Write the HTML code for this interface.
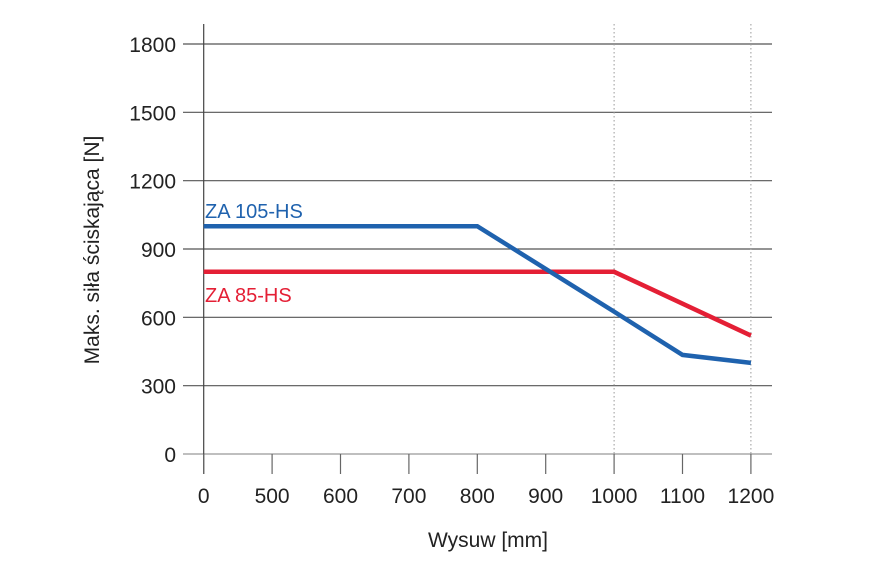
<!DOCTYPE html>
<html><head><meta charset="utf-8"><style>
html,body{margin:0;padding:0;background:#fff;}
svg text{font-family:"Liberation Sans",sans-serif;fill:#222;}
</style></head><body>
<svg width="885" height="575" viewBox="0 0 885 575" id="chart">
<g id="grid"></g><g id="series"></g>
<text x="205" y="218" font-size="20" style="fill:#1f62ae">ZA 105-HS</text>
<text x="205" y="302" font-size="20" style="fill:#e41f35">ZA 85-HS</text>
<text x="488" y="547" font-size="21" text-anchor="middle">Wysuw [mm]</text>
<text transform="translate(99,250) rotate(-90)" font-size="21" text-anchor="middle">Maks. siła ściskająca [N]</text>
</svg>
<script>
const xCategories=[0,500,600,700,800,900,1000,1100,1200];
const yTicks=[0,300,600,900,1200,1500,1800];
const blueX=[0,800,1000,1100,1200];
const blueY=[1000,1000,625,435,400];
const redX=[0,1000,1200];
const redY=[800,800,520];
const NS="http://www.w3.org/2000/svg";
function xPos(v){
  if(v<=500) return 203.7+(v/500)*68.4;
  return 203.7+68.4*(1+(v-500)/100);
}
function yPos(v){return 454-v*(410/1800);}
function mk(t,a,p){const e=document.createElementNS(NS,t);for(const k in a)e.setAttribute(k,a[k]);p.appendChild(e);return e;}
const g=document.getElementById('grid'),s=document.getElementById('series');
yTicks.forEach(v=>{
  const l=mk('line',{x1:183,x2:772,y1:yPos(v),y2:yPos(v),stroke:v===0?'#999':'#555','stroke-width':1.2},g);
  
  
  const t=mk('text',{x:176,y:yPos(v)+8,'font-size':21,'text-anchor':'end'},g);
  t.textContent=v;
  
  
});
const ax=mk('line',{x1:xPos(0),x2:xPos(0),y1:yPos(1800)-20,y2:474,stroke:'#444','stroke-width':1.2},g);


xCategories.forEach(v=>{
  const tk=mk('line',{x1:xPos(v),x2:xPos(v),y1:454,y2:474,stroke:'#666','stroke-width':1.2},g);
  
  
  if(v===1000||v===1200){
    const d=mk('line',{x1:xPos(v),x2:xPos(v),y1:yPos(1800)-20,y2:454,stroke:'#999','stroke-width':1,'stroke-dasharray':'1.5,2.5'},g);
    
    
  }
  const t=mk('text',{x:xPos(v),y:503,'font-size':21,'text-anchor':'middle'},g);
  t.textContent=v;
  
  
});
function pts(xs,ys){return xs.map((x,i)=>xPos(x)+','+yPos(ys[i])).join(' ');}
const r=mk('polyline',{points:pts(redX,redY),fill:'none',stroke:'#e41f35','stroke-width':4.5},s);


const b=mk('polyline',{points:pts(blueX,blueY),fill:'none',stroke:'#1f62ae','stroke-width':4.5},s);


</script>
</body></html>
